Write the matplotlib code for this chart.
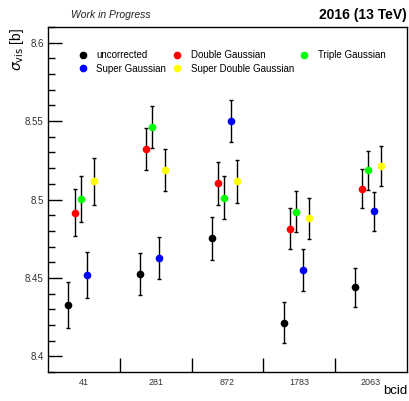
import matplotlib.pyplot as plt
import numpy as np
from matplotlib.ticker import MultipleLocator, FixedLocator

plt.rcParams['font.family'] = ['Liberation Sans', 'DejaVu Sans']

bcids = ["41", "281", "872", "1783", "2063"]
series = ["uncorrected", "Double Gaussian", "Triple Gaussian",
          "Super Gaussian", "Super Double Gaussian"]
colors = ["black", "red", "#00ff00", "blue", "yellow"]

uncorrected = [8.433, 8.4524, 8.4752, 8.4215, 8.444]
double_gauss = [8.4917, 8.532, 8.5104, 8.4815, 8.507]
triple_gauss = [8.5004, 8.5463, 8.5011, 8.4922, 8.5185]
super_gauss = [8.4516, 8.4624, 8.5501, 8.455, 8.4924]
super_double = [8.5115, 8.5187, 8.5115, 8.4879, 8.5212]
errors = [0.0147, 0.0134, 0.0136, 0.0132, 0.0126]

values = [uncorrected, double_gauss, triple_gauss, super_gauss, super_double]
offsets = [-0.22, -0.13, -0.045, 0.045, 0.135]

fig = plt.figure(figsize=(4.09, 4.01), dpi=100)
ax = fig.add_axes([48/409, 1-372/401, 359/409, 345/401])

x = np.arange(len(bcids)) + 0.5
handles = []
for vals, col, off, name in zip(values, colors, offsets, series):
    ax.errorbar(x + off, vals, yerr=errors, fmt='none', ecolor='black',
                elinewidth=1.0, capsize=1.2, capthick=1.0, zorder=2)
    h, = ax.plot(x + off, vals, 'o', color=col, markersize=4.5, zorder=3,
                 linestyle='none', label=name)
    handles.append(h)

ax.set_xlim(0, len(bcids))
ax.set_ylim(8.39, 8.61)
ax.yaxis.set_minor_locator(MultipleLocator(0.01))
ax.set_yticks([8.4, 8.45, 8.5, 8.55, 8.6])
ax.set_yticklabels(["8.4", "8.45", "8.5", "8.55", "8.6"])
ax.tick_params(axis='y', which='major', direction='in', length=10, width=1,
               labelsize=7, pad=3, colors='black')
ax.tick_params(axis='y', which='minor', direction='in', length=5, width=1)
for lab in ax.get_yticklabels():
    lab.set_color('#333333')

ax.xaxis.set_major_locator(FixedLocator(x))
ax.set_xticklabels(bcids, fontsize=6.5, color='#333333')
ax.tick_params(axis='x', which='major', length=0, pad=4)
ax.xaxis.set_minor_locator(FixedLocator(np.arange(1, len(bcids))))
ax.tick_params(axis='x', which='minor', direction='in', length=10, width=1)

for s in ax.spines.values():
    s.set_linewidth(1)

# legend is filled row-wise in the reference
order = [0, 3, 1, 4, 2]
ax.legend([handles[i] for i in order], [series[i] for i in order],
          ncol=3, loc='upper left', bbox_to_anchor=(0.086, 0.932),
          borderaxespad=0, borderpad=0, frameon=False, fontsize=7,
          handletextpad=1.0, columnspacing=0.7, labelspacing=0.35,
          handlelength=0.8)

fig.text(71/409, 1-15/401, "Work in Progress", fontsize=7.5, style='italic',
         va='center', ha='left', color='#222222')
fig.text(407/409, 1-15/401, "2016 (13 TeV)", fontsize=10, weight='bold',
         va='center', ha='right')
fig.text(17/409, 1-28/401, r"$\sigma_{\mathrm{vis}}$ [b]", fontsize=10,
         rotation=90, va='top', ha='center')
fig.text(407/409, 1-391/401, "bcid", fontsize=9.5, va='center', ha='right')

fig.savefig("out.png", dpi=100)
